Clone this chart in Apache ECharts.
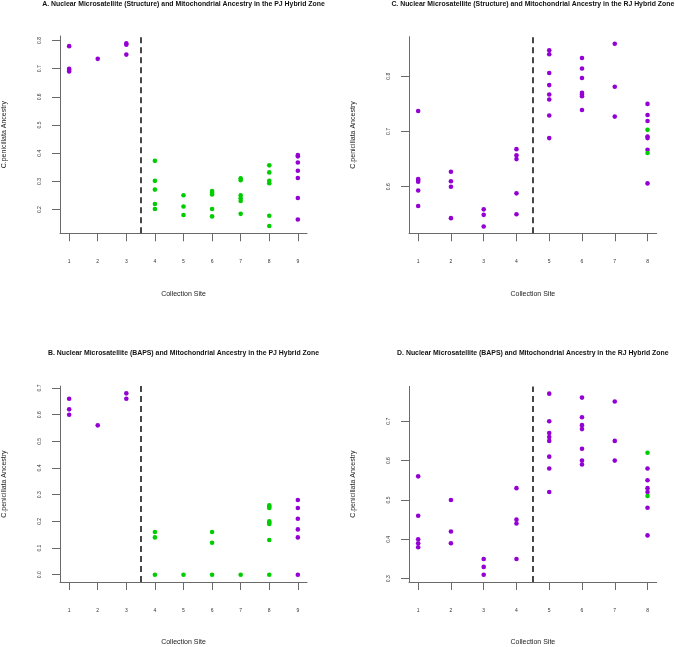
<!DOCTYPE html>
<html>
<head>
<meta charset="utf-8">
<script src="https://cdn.jsdelivr.net/npm/echarts@6/dist/echarts.min.js"></script>
<style>html,body{margin:0;padding:0;background:#fff}#c{width:675px;height:647px}</style>
</head>
<body>
<div id="c"></div>
<script>
// ---------- DATA ----------
const titleA = 'A. Nuclear Microsatellite (Structure) and Mitochondrial Ancestry in the PJ Hybrid Zone';
const titleB = 'B. Nuclear Microsatellite (BAPS) and Mitochondrial Ancestry in the PJ Hybrid Zone';
const titleC = 'C. Nuclear Microsatellite (Structure) and Mitochondrial Ancestry in the RJ Hybrid Zone';
const titleD = 'D. Nuclear Microsatellite (BAPS) and Mitochondrial Ancestry in the RJ Hybrid Zone';
const xName = 'Collection Site';
const yName = 'C.penicillata Ancestry';

const sitesPJ = [1, 2, 3, 4, 5, 6, 7, 8, 9];
const sitesRJ = [1, 2, 3, 4, 5, 6, 7, 8];
const yTicksA = [0.2, 0.3, 0.4, 0.5, 0.6, 0.7, 0.8];
const yTicksB = [0.0, 0.1, 0.2, 0.3, 0.4, 0.5, 0.6, 0.7];
const yTicksC = [0.6, 0.7, 0.8];
const yTicksD = [0.3, 0.4, 0.5, 0.6, 0.7];
const dividerPJ = 3.5;
const dividerRJ = 4.5;

const aPurple = [[1,0.78],[1,0.70],[1,0.695],[1,0.69],[2,0.735],[3,0.79],[3,0.785],[3,0.75],
  [9,0.394],[9,0.389],[9,0.367],[9,0.338],[9,0.312],[9,0.241],[9,0.165]];
const aGreen = [[4,0.373],[4,0.302],[4,0.271],[4,0.22],[4,0.202],[5,0.251],[5,0.211],[5,0.181],
  [6,0.266],[6,0.26],[6,0.254],[6,0.202],[6,0.176],[7,0.311],[7,0.304],[7,0.251],[7,0.24],[7,0.231],[7,0.185],
  [8,0.357],[8,0.332],[8,0.302],[8,0.294],[8,0.178],[8,0.142]];

const cPurple = [[1,0.737],[1,0.614],[1,0.612],[1,0.609],[1,0.593],[1,0.565],[2,0.627],[2,0.61],[2,0.6],[2,0.543],
  [3,0.559],[3,0.549],[3,0.528],[4,0.668],[4,0.657],[4,0.65],[4,0.588],[4,0.55],
  [5,0.847],[5,0.84],[5,0.806],[5,0.784],[5,0.767],[5,0.758],[5,0.729],[5,0.688],
  [6,0.833],[6,0.814],[6,0.797],[6,0.77],[6,0.767],[6,0.764],[6,0.739],[7,0.859],[7,0.781],[7,0.727],
  [8,0.75],[8,0.73],[8,0.719],[8,0.691],[8,0.688],[8,0.667],[8,0.606]];
const cGreen = [[8,0.703],[8,0.661]];

const bPurple = [[1,0.66],[1,0.62],[1,0.60],[2,0.56],[3,0.68],[3,0.66],[9,0.28],[9,0.25],[9,0.21],[9,0.17],[9,0.14],[9,0]];
const bGreen = [[4,0.16],[4,0.14],[4,0],[5,0],[6,0.16],[6,0.12],[6,0],[7,0],
  [8,0.26],[8,0.255],[8,0.25],[8,0.20],[8,0.195],[8,0.19],[8,0.13],[8,0]];

const dPurple = [[1,0.56],[1,0.46],[1,0.40],[1,0.39],[1,0.38],[2,0.50],[2,0.42],[2,0.39],[3,0.35],[3,0.33],[3,0.31],
  [4,0.53],[4,0.45],[4,0.44],[4,0.35],[5,0.77],[5,0.70],[5,0.67],[5,0.66],[5,0.65],[5,0.61],[5,0.58],[5,0.52],
  [6,0.76],[6,0.71],[6,0.69],[6,0.68],[6,0.63],[6,0.60],[6,0.59],[7,0.75],[7,0.65],[7,0.60],
  [8,0.58],[8,0.55],[8,0.53],[8,0.52],[8,0.48],[8,0.41]];
const dGreen = [[8,0.62],[8,0.51]];

// ---------- LAYOUT / STYLE ----------
const FONT = 'Liberation Sans, Arial, Helvetica, sans-serif';
const PURPLE = '#9400D3';
const GREEN = '#00CD00';
const AXIS = '#6a6a6a';

const panels = [
  {title: titleA, grid: {left: 60, top: 36, width: 247, height: 197.3}, xr: [0.68, 9.32], yr: [0.116, 0.816],
   sites: sitesPJ, yt: yTicksA, div: dividerPJ, purple: aPurple, green: aGreen, ty: 4.5},
  {title: titleC, grid: {left: 409, top: 36.7, width: 247.7, height: 196.6}, xr: [0.72, 8.28], yr: [0.5156, 0.8717],
   sites: sitesRJ, yt: yTicksC, div: dividerRJ, purple: cPurple, green: cGreen, ty: 4.5},
  {title: titleB, grid: {left: 60, top: 386.1, width: 247, height: 197.5}, xr: [0.68, 9.32], yr: [-0.0272, 0.7072],
   sites: sitesPJ, yt: yTicksB, div: dividerPJ, purple: bPurple, green: bGreen, ty: 352.7},
  {title: titleD, grid: {left: 409, top: 386.4, width: 247.7, height: 197.2}, xr: [0.72, 8.28], yr: [0.2916, 0.7884],
   sites: sitesRJ, yt: yTicksD, div: dividerRJ, purple: dPurple, green: dGreen, ty: 352.7}
];

const option = {
  animation: false,
  backgroundColor: '#fff',
  title: [], grid: [], xAxis: [], yAxis: [], series: []
};

panels.forEach((p, i) => {
  option.grid.push(Object.assign({containLabel: false}, p.grid));
  option.title.push({
    text: p.title, left: p.grid.left + p.grid.width / 2, top: p.ty - 4, textAlign: 'center', padding: 0,
    textStyle: {fontFamily: FONT, fontSize: 6.9, lineHeight: 8, fontWeight: 'bold', color: '#111'}
  });
  option.xAxis.push({
    type: 'value', gridIndex: i, min: p.xr[0], max: p.xr[1],
    name: xName, nameLocation: 'middle', nameGap: 57,
    nameTextStyle: {fontFamily: FONT, fontSize: 7, color: '#222', verticalAlign: 'top'},
    splitLine: {show: false},
    axisLine: {show: true, onZero: false, lineStyle: {color: AXIS, width: 1}},
    axisTick: {show: true, length: 8, customValues: p.sites, lineStyle: {color: AXIS}},
    axisLabel: {show: true, customValues: p.sites, margin: 26, fontFamily: FONT, fontSize: 5, color: '#333',
      formatter: v => String(Math.round(v))}
  });
  option.yAxis.push({
    type: 'value', gridIndex: i, min: p.yr[0], max: p.yr[1],
    name: yName, nameLocation: 'middle', nameGap: 52, nameRotate: 90,
    nameTextStyle: {fontFamily: FONT, fontSize: 7, color: '#222'},
    splitLine: {show: false},
    axisLine: {show: true, onZero: false, lineStyle: {color: AXIS, width: 1}},
    axisTick: {show: true, length: 8, customValues: p.yt, lineStyle: {color: AXIS}},
    axisLabel: {show: true, customValues: p.yt, rotate: 90, margin: 18, fontFamily: FONT, fontSize: 5, color: '#333',
      formatter: v => v.toFixed(1)}
  });
  option.series.push({
    type: 'scatter', xAxisIndex: i, yAxisIndex: i, data: p.purple, symbolSize: 4.6,
    itemStyle: {color: PURPLE, opacity: 1},
    markLine: {
      silent: true, symbol: ['none', 'none'], label: {show: false},
      lineStyle: {color: '#1a1a1a', width: 1.6, type: [6, 4]},
      data: [{xAxis: p.div}]
    }
  });
  option.series.push({
    type: 'scatter', xAxisIndex: i, yAxisIndex: i, data: p.green, symbolSize: 4.6,
    itemStyle: {color: GREEN, opacity: 1}
  });
});

const chart = echarts.init(document.getElementById('c'), null, {renderer: 'canvas'});
chart.setOption(option);
</script>
</body>
</html>
